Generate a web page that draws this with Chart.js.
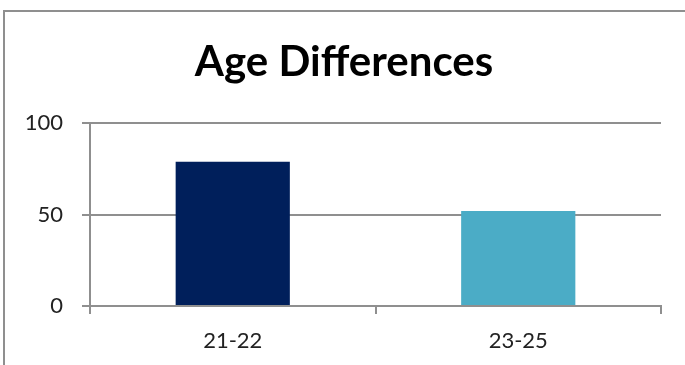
<!DOCTYPE html>
<html>
<head>
<meta charset="utf-8">
<script src="https://cdn.jsdelivr.net/npm/chart.js@4/dist/chart.umd.min.js"></script>
<style>
  html, body { margin: 0; padding: 0; background: #fff; }
  #wrap { position: relative; width: 685px; height: 365px; overflow: hidden; }
  #frame {
    position: absolute; left: 3px; top: 10px; width: 720px; height: 400px;
    border-left: 2px solid #8f8f8f; border-top: 2px solid #8f8f8f;
    box-sizing: border-box;
  }
  canvas { position: absolute; left: 0; top: 0; }
</style>
</head>
<body>
<div id="wrap">
  <div id="frame"></div>
  <canvas id="chart" width="685" height="365"></canvas>
</div>
<script>
// Age groups and their counts
const categories = ['21-22', '23-25'];
const counts = [79, 52];
const barColors = ['#001f5b', '#4bacc6'];
const yTicks = [0, 50, 100];

const gridGray = '#8f8f8f';

new Chart(document.getElementById('chart'), {
  type: 'bar',
  data: {
    labels: categories,
    datasets: [{
      data: counts,
      backgroundColor: barColors,
      borderWidth: 0,
      categoryPercentage: 1.0,
      barPercentage: 0.4
    }]
  },
  options: {
    responsive: false,
    animation: false,
    events: [],
    layout: { padding: { left: 3, right: 0, top: 0, bottom: 0 } },
    plugins: {
      legend: { display: false },
      tooltip: { enabled: false },
      title: {
        display: true,
        text: 'Age Differences',
        color: '#000',
        font: { family: 'Lato', weight: 'bold', size: 42, lineHeight: 1.2 },
        padding: { top: 37, bottom: 36 }
      }
    },
    scales: {
      x: {
        grid: {
          display: true,
          drawOnChartArea: false,
          drawTicks: true,
          tickLength: 8,
          color: gridGray,
          lineWidth: 2
        },
        border: { display: true, color: gridGray, width: 2 },
        ticks: {
          color: '#222',
          font: { family: 'Lato', size: 22 },
          padding: 14
        },
        afterFit(scale) { scale.height = 59; }
      },
      y: {
        min: 0,
        max: 100,
        afterBuildTicks(scale) { scale.ticks = yTicks.map(v => ({ value: v })); },
        grid: {
          color: gridGray,
          lineWidth: 2,
          tickLength: 8
        },
        border: { display: true, color: gridGray, width: 2 },
        ticks: {
          color: '#222',
          font: { family: 'Lato', size: 22 },
          padding: 19
        },
        afterFit(scale) { scale.width = 87; }
      },
      // empty margin on the right of the plot
      yRight: {
        position: 'right',
        display: true,
        grid: { display: false },
        border: { display: false },
        ticks: { display: false },
        afterFit(scale) { scale.width = 24; }
      }
    }
  }
});
</script>
</body>
</html>
